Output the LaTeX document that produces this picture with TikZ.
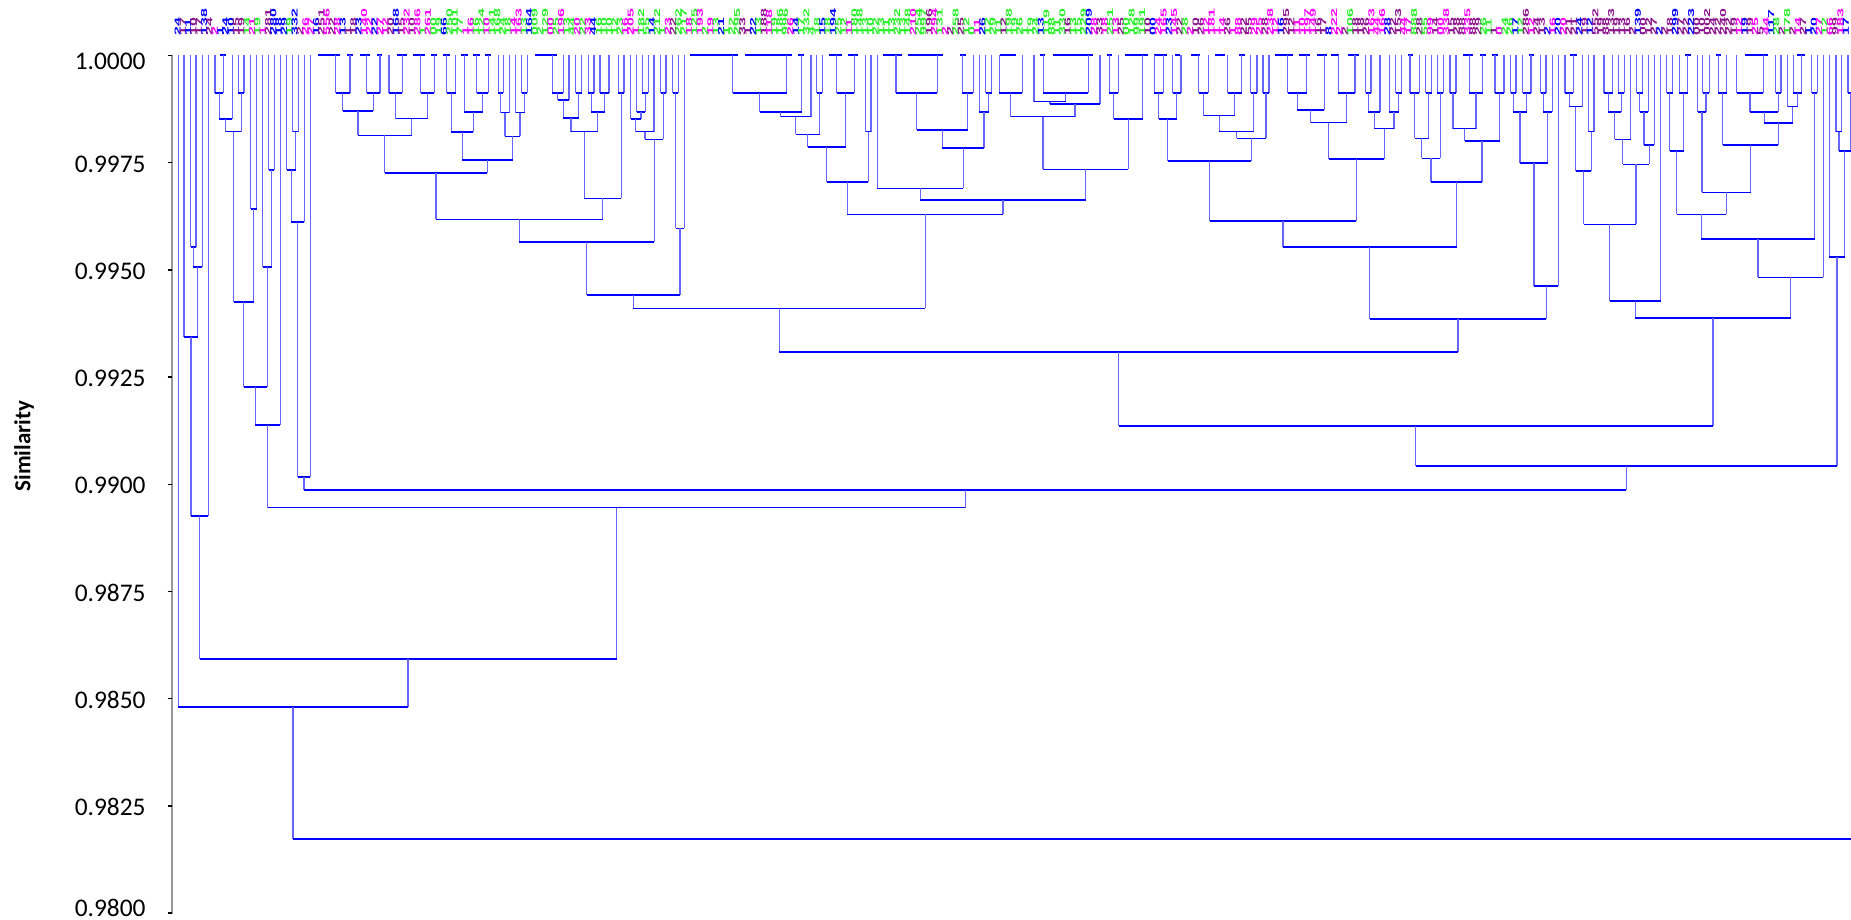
\documentclass[tikz,border=0pt]{standalone}
\usepackage{fontspec}
\usepackage{graphicx}
\setmainfont{Carlito}
\newfontfamily\labfont{Liberation Sans}
\definecolor{labmag}{RGB}{255,0,255}
\definecolor{labgrn}{RGB}{40,240,40}
\definecolor{labpur}{RGB}{140,20,140}
\definecolor{labblu}{RGB}{0,0,255}
\newcommand\colpick[1]{\ifcase#1 labmag\or labmag\or labmag\or labblu\or labblu\or labpur\or labgrn\or labmag\or labblu\or labpur%
\or labgrn\or labgrn\or labgrn\or labgrn\or labgrn\or labmag\or labblu\or labpur\or labgrn\or labmag%
\or labmag\or labmag\or labpur\or labpur\or labpur\or labmag\or labgrn\or labblu\or labmag\or labpur%
\or labpur\or labpur\or labpur\or labmag\or labblu\or labblu\or labpur\or labmag\or labgrn\or labpur\fi}
\tikzset{
  vl/.style={draw=blue!60, line width=0.6pt},
  hl/.style={draw=blue, line width=0.8pt},
  axisline/.style={draw=black!40, line width=0.8pt},
  tickmark/.style={draw=black, line width=0.7pt},
  ticklab/.style={anchor=east, inner sep=0pt, font=\fontsize{12.7}{14}\selectfont},
  ylab/.style={rotate=90, inner sep=0pt, font=\bfseries\fontsize{11.5}{13}\selectfont},
  leaflab/.style={rotate=90, anchor=west, inner sep=0pt, font=\labfont\bfseries\fontsize{4.3}{5}\selectfont}
}
\newcommand\dendU[5]{\draw[vl] (#1,#2) -- (#1,#5) (#3,#4) -- (#3,#5); \draw[hl] (#1,#5) -- (#3,#5);}
\newcommand\dendT[2]{\draw[hl] (#1,55) -- (#2,55);}
\begin{document}
\begin{tikzpicture}[x=0.5pt,y=-0.5pt]
\useasboundingbox (0,0) rectangle (1851,920);
% axis
\draw[axisline] (172,55) -- (172,914);
\foreach \k in {0,...,8}{\draw[tickmark] (167.5,55.5+107.2*\k) -- (172,55.5+107.2*\k);}
\node[ticklab] (t0) at (146,61) {1.0000};
\node[ticklab] (t1) at (146,164) {0.9975};
\node[ticklab] (t2) at (146,271) {0.9950};
\node[ticklab] (t3) at (146,378) {0.9925};
\node[ticklab] (t4) at (146,485.5) {0.9900};
\node[ticklab] (t5) at (146,592.5) {0.9875};
\node[ticklab] (t6) at (146,700) {0.9850};
\node[ticklab] (t7) at (146,807) {0.9825};
\node[ticklab] (t8) at (146,908) {0.9800};
\node[ylab] (ylab) at (24,446) {Similarity};
% leaf labels
\pgfmathsetseed{12345}
\foreach \i in {0,...,313}{
  \pgfmathsetmacro\lx{177.5+5.33*\i}
  \pgfmathrandominteger{\ra}{1}{10}
  \pgfmathrandominteger{\rb}{0}{9}
  \pgfmathrandominteger{\rc}{0}{9}
  \pgfmathrandominteger{\rl}{1}{10}
  \pgfmathrandominteger{\rk}{0}{9}
  \pgfmathtruncatemacro\reg{(\lx<430) ? 0 : ((\lx<1150) ? 1 : ((\lx<1500) ? 2 : 3))}
  \pgfmathtruncatemacro\cc{10*\reg+\rk}
  \edef\lc{\colpick{\cc}}
  \ifnum\ra<6 \def\da{1}\else\ifnum\ra<9 \def\da{2}\else\edef\da{\rb}\fi\fi
  \ifnum\rl<2 \edef\lab{\da}\else\ifnum\rl<8 \edef\lab{\da\rb}\else\edef\lab{\da\rb\rc}\fi\fi
  \node[leaflab, text=\lc] (lab\i) at (\lx,35.5) {\scalebox{1.85}[1]{\lab}};
}
% ---------- dendrogram ----------
% L1
\dendU{190.7}{55}{196}{55}{246.7}
\dendU{193.3}{246.7}{202.3}{55}{266.7}
\dendU{184}{55}{197.8}{266.7}{336.7}
\dendU{190.9}{336.7}{208.3}{55}{516}
% L2
\dendT{220}{226}
\dendU{215}{55}{223.3}{55}{93.3}
\dendU{219.2}{93.3}{232.3}{55}{119.3}
\dendU{238.3}{55}{244}{55}{93.3}
\dendU{225.7}{119.3}{241.2}{93.3}{131.7}
\dendU{250.7}{55}{256.7}{55}{209}
\dendU{233.5}{131.7}{253.7}{209}{301.7}
\dendU{268.7}{55}{274.3}{55}{170}
\dendU{262.7}{55}{271.5}{170}{266.7}
\dendU{243.6}{301.7}{267.1}{266.7}{387}
\dendU{255.3}{387}{280.3}{55}{425}
\dendU{292.7}{55}{298.3}{55}{131.7}
\dendU{286.7}{55}{295.5}{131.7}{170}
\dendU{291.1}{170}{304.3}{55}{221.7}
\dendU{297.7}{221.7}{310.3}{55}{477}
% region B
\dendT{317.7}{340} \dendT{346.7}{353} \dendT{360}{370} \dendT{376.7}{382.3}
\dendT{396.7}{406.7} \dendT{413.3}{425} \dendT{431}{436.7} \dendT{443}{450}
\dendT{461}{468} \dendT{473}{480} \dendT{485}{491} \dendT{535}{557}
\dendU{335.7}{55}{350}{55}{93.3}
\dendU{366.7}{55}{380}{55}{93.3}
\dendU{342.8}{93.3}{373.3}{93.3}{111}
\dendU{389}{55}{402.3}{55}{93.3}
\dendU{420.7}{55}{434.3}{55}{93.3}
\dendU{395.7}{93.3}{427.5}{93.3}{118.7}
\dendU{358}{111}{411.6}{118.7}{135.3}
\dendU{446.7}{55}{455.7}{55}{93.3}
\dendU{476.7}{55}{488.3}{55}{93.3}
\dendU{464.3}{55}{482.5}{93.3}{112.3}
\dendU{451.2}{93.3}{473.4}{112.3}{132}
\dendU{498.3}{55}{503.3}{55}{93.3}
\dendU{500.8}{93.3}{509.3}{55}{112.7}
\dendU{521.7}{55}{527.3}{55}{93.3}
\dendU{515.7}{55}{524.5}{93.3}{112.7}
\dendU{505}{112.7}{520}{112.7}{136.3}
\dendU{462.3}{132}{512.5}{136.3}{159.7}
\dendU{384.8}{135.3}{487.4}{159.7}{172.7}
\dendU{552.3}{55}{563.3}{55}{93.3}
\dendU{557.8}{93.3}{569}{55}{100}
\dendU{575.7}{55}{581.7}{55}{93.3}
\dendU{563.4}{100}{578.7}{93.3}{118.3}
\dendU{588.3}{55}{594}{55}{93.3}
\dendU{600}{55}{609}{55}{93.3}
\dendU{591.2}{93.3}{604.5}{93.3}{112.3}
\dendU{571}{118.3}{597.8}{112.3}{131.7}
\dendU{618.3}{55}{624}{55}{93.3}
\dendU{584.4}{131.7}{621.2}{93.3}{198.3}
\dendU{436}{172.7}{602.8}{198.3}{219.3}
\dendU{642.3}{55}{648.3}{55}{93.3}
\dendU{636.7}{55}{645.3}{93.3}{112.3}
\dendU{630.7}{55}{641}{112.3}{119.3}
\dendU{635.8}{119.3}{654}{55}{131.7}
\dendU{660.7}{55}{666}{55}{93.3}
\dendU{644.9}{131.7}{663.3}{93.3}{139.3}
\dendU{519.4}{219.3}{654.1}{139.3}{241.7}
\dendU{672.7}{55}{678.3}{55}{93.3}
\dendU{675.5}{93.3}{684.3}{55}{228.3}
\dendU{586.8}{241.7}{679.9}{228.3}{295}
% region C
\dendT{690}{738.3} \dendT{745}{792} \dendT{798.3}{804.3} \dendT{829}{842} \dendT{848}{858}
\dendT{883}{901.7} \dendT{907.7}{943.3} \dendT{960}{966} \dendT{1000}{1016}
\dendT{1040}{1045} \dendT{1052.7}{1093.3} \dendT{1107}{1112} \dendT{1125}{1147.7}
\dendU{732.7}{55}{786.7}{55}{93.3}
\dendU{759.7}{93.3}{801.7}{55}{112.3}
\dendU{780.7}{112.3}{811}{55}{116.7}
\dendU{816.7}{55}{822.3}{55}{93.3}
\dendU{795.8}{116.7}{819.5}{93.3}{134.3}
\dendU{836.7}{55}{854.3}{55}{93.3}
\dendU{807.6}{134.3}{845.5}{93.3}{146.7}
\dendU{865.7}{55}{871}{55}{131.7}
\dendU{826.6}{146.7}{868.3}{131.7}{181.7}
\dendU{896}{55}{937.3}{55}{93.3}
\dendU{962.3}{55}{973.3}{55}{93.3}
\dendU{916.7}{93.3}{967.8}{93.3}{130}
\dendU{985.7}{55}{991.7}{55}{93.3}
\dendU{979.3}{55}{988.7}{93.3}{112.3}
\dendU{942.2}{130}{984}{112.3}{147.7}
\dendU{877.3}{55}{963.1}{147.7}{188.3}
\dendU{999.3}{55}{1022.3}{55}{93.3}
\dendU{1043.3}{55}{1088.3}{55}{93.3}
\dendU{1034}{55}{1065.8}{93.3}{101.7}
\dendU{1049.9}{101.7}{1100}{55}{104.3}
\dendU{1010.8}{93.3}{1075}{104.3}{116.7}
\dendU{1109.3}{55}{1118.3}{55}{93.3}
\dendU{1113.8}{93.3}{1142.7}{55}{119.3}
\dendU{1042.9}{116.7}{1128.3}{119.3}{169.3}
\dendU{920.2}{188.3}{1085.6}{169.3}{200}
\dendU{847.4}{181.7}{1002.9}{200}{214.3}
\dendU{633.3}{295}{925.2}{214.3}{308.3}
% region D
\dendT{1154}{1167} \dendT{1175}{1180} \dendT{1191}{1200} \dendT{1215}{1225} \dendT{1239}{1245}
\dendT{1275}{1292.7} \dendT{1299}{1310} \dendT{1317}{1327} \dendT{1331}{1339} \dendT{1348}{1359}
\dendT{1408}{1413} \dendT{1463}{1473} \dendT{1480}{1486} \dendT{1492}{1498} \dendT{1529}{1534}
\dendU{1154.3}{55}{1163.3}{55}{93.3}
\dendU{1172.7}{55}{1181}{55}{93.3}
\dendU{1158.8}{93.3}{1176.8}{93.3}{119.3}
\dendU{1198.7}{55}{1208.3}{55}{93.3}
\dendU{1227.7}{55}{1241.7}{55}{93.3}
\dendU{1203.5}{93.3}{1234.7}{93.3}{115.7}
\dendU{1250.7}{55}{1257}{55}{93.3}
\dendU{1219.1}{115.7}{1253.8}{93.3}{131.7}
\dendU{1263}{55}{1269}{55}{93.3}
\dendU{1236.5}{131.7}{1266}{93.3}{138.3}
\dendU{1167.8}{119.3}{1251.2}{138.3}{160.7}
\dendU{1287.7}{55}{1306.7}{55}{93.3}
\dendU{1297.2}{93.3}{1324.3}{55}{110}
\dendU{1338.3}{55}{1355}{55}{93.3}
\dendU{1310.8}{110}{1346.7}{93.3}{122.7}
\dendU{1365.7}{55}{1371}{55}{93.3}
\dendU{1368.3}{93.3}{1380}{55}{112.3}
\dendU{1395.7}{55}{1401.7}{55}{93.3}
\dendU{1389.3}{55}{1398.7}{93.3}{112.3}
\dendU{1374.2}{112.3}{1394}{112.3}{128.7}
\dendU{1328.7}{122.7}{1384.1}{128.7}{159}
\dendU{1209.5}{160.7}{1356.4}{159}{220.7}
\dendU{1410}{55}{1419.3}{55}{93.3}
\dendU{1425.7}{55}{1431.7}{55}{93.3}
\dendU{1414.7}{93.3}{1428.7}{93.3}{138.3}
\dendU{1437.3}{55}{1443.3}{55}{93.3}
\dendU{1421.7}{138.3}{1440.3}{93.3}{158.3}
\dendU{1450}{55}{1456}{55}{93.3}
\dendU{1469.3}{55}{1482.7}{55}{93.3}
\dendU{1453}{93.3}{1476}{93.3}{128.7}
\dendU{1495}{55}{1504}{55}{93.3}
\dendU{1464.5}{128.7}{1499.5}{93.3}{141}
\dendU{1431}{158.3}{1482}{141}{181.7}
\dendU{1283}{220.7}{1456.5}{181.7}{246.7}
\dendU{1510.7}{55}{1516}{55}{93.3}
\dendU{1522.7}{55}{1531}{55}{93.3}
\dendU{1513.3}{93.3}{1526.8}{93.3}{112.3}
\dendU{1540.7}{55}{1546}{55}{93.3}
\dendU{1543.3}{93.3}{1552.3}{55}{112.3}
\dendU{1520}{112.3}{1547.8}{112.3}{162.7}
\dendU{1533.9}{162.7}{1558.3}{55}{285.7}
\dendU{1369.8}{246.7}{1546.1}{285.7}{318.7}
% region E
\dendT{1570}{1577} \dendT{1685}{1691} \dendT{1716}{1721} \dendT{1745}{1768} \dendT{1797}{1805}
\dendU{1565}{55}{1573.3}{55}{93.3}
\dendU{1569.2}{93.3}{1582.3}{55}{106.7}
\dendU{1588.3}{55}{1594}{55}{131.7}
\dendU{1575.8}{106.7}{1591.2}{131.7}{170.7}
\dendU{1604}{55}{1612.7}{55}{93.3}
\dendU{1618.3}{55}{1624.3}{55}{93.3}
\dendU{1608.3}{93.3}{1621.3}{93.3}{112.3}
\dendU{1614.8}{112.3}{1630.7}{55}{139.3}
\dendU{1636.7}{55}{1642.7}{55}{93.3}
\dendU{1639.7}{93.3}{1648.3}{55}{112.3}
\dendU{1644}{112.3}{1654.3}{55}{145}
\dendU{1622.8}{139.3}{1649.2}{145}{164.3}
\dendU{1583.5}{170.7}{1636}{164.3}{224.3}
\dendU{1609.8}{224.3}{1660.7}{55}{300.7}
\dendU{1666.7}{55}{1672.7}{55}{93.3}
\dendU{1679.3}{55}{1687.7}{55}{93.3}
\dendU{1669.7}{93.3}{1683.5}{93.3}{151}
\dendU{1702.7}{55}{1709.3}{55}{93.3}
\dendU{1697.7}{55}{1706}{93.3}{112.3}
\dendU{1718.3}{55}{1726.7}{55}{93.3}
\dendU{1736.7}{55}{1763.3}{55}{93.3}
\dendU{1775.7}{55}{1781}{55}{93.3}
\dendU{1750}{93.3}{1778.3}{93.3}{112.3}
\dendU{1793.3}{55}{1801.7}{55}{93.3}
\dendU{1787.7}{55}{1797.5}{93.3}{106.7}
\dendU{1764.2}{112.3}{1792.6}{106.7}{123.3}
\dendU{1722.5}{93.3}{1778.4}{123.3}{145}
\dendU{1701.9}{112.3}{1750.5}{145}{192.3}
\dendU{1676.6}{151}{1726.2}{192.3}{214.3}
\dendU{1811.7}{55}{1817.3}{55}{93.3}
\dendU{1701.4}{214.3}{1814.5}{93.3}{239}
\dendU{1758}{239}{1823.3}{55}{277.3}
\dendU{1635.3}{300.7}{1790.7}{277.3}{317.7}
% right edge
\dendU{1836}{55}{1841.7}{55}{131.7}
\dendU{1848}{55}{1853}{55}{93.3}
\dendU{1838.9}{131.7}{1850.5}{93.3}{151}
\dendU{1829.3}{55}{1844.7}{151}{256.7}
% high level
\dendU{779.3}{308.3}{1458}{318.7}{352}
\dendU{1118.7}{352}{1713}{317.7}{426}
\dendU{1415.8}{426}{1837}{256.7}{466}
\dendU{304}{477}{1626.4}{466}{490}
\dendU{267.8}{425}{965.2}{490}{507.6}
\dendU{199.6}{516}{616.5}{507.6}{658.7}
\dendU{178.3}{55}{408}{658.7}{706.7}
\draw[vl] (293,706.7) -- (293,838.7);
\draw[hl] (293,838.7) -- (1851,838.7);
\end{tikzpicture}
\end{document}
